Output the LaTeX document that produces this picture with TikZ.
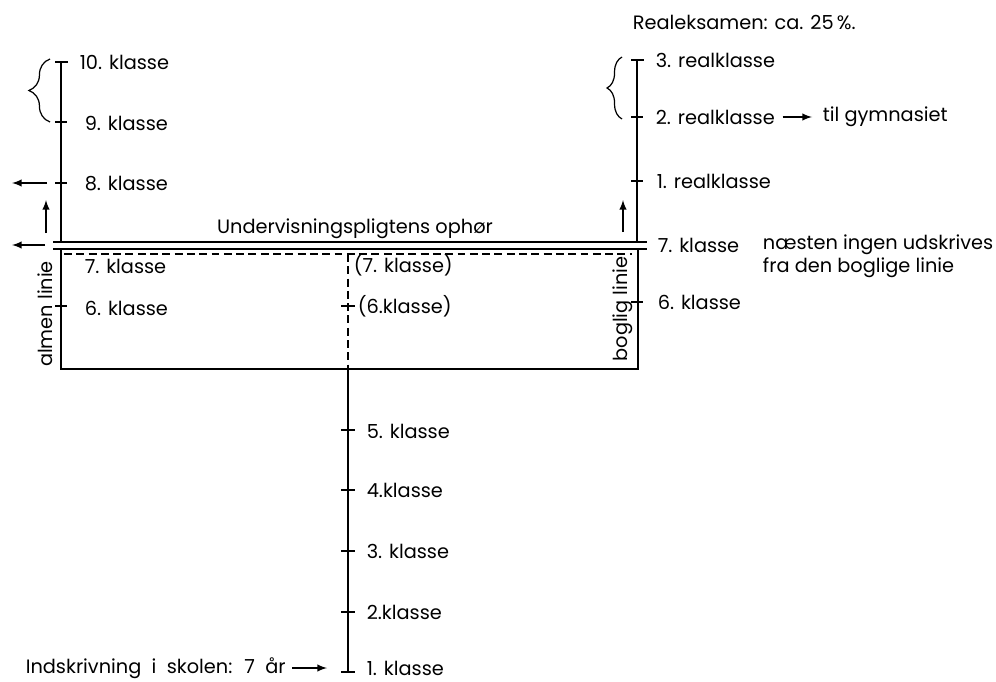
\documentclass[tikz,border=0pt]{standalone}
\usepackage{fontspec}
\setmainfont{Poppins}
\usetikzlibrary{calc, arrows.meta, decorations.pathreplacing}
\tikzset{>=latex}
\tikzset{
  grade/.style={anchor=west, inner sep=0pt, font=\fontsize{11}{13}\selectfont},
  gbrace/.style={decorate, decoration={brace, amplitude=#1}, line width=0.7pt},
  dash line/.style={dash pattern=on 4.5pt off 2.5pt}
}
\begin{document}
\begin{tikzpicture}[x=0.02cm, y=-0.02cm, line width=0.9pt]
\useasboundingbox (0,0) rectangle (996,682);
\coordinate (LT) at (61,62);
\coordinate (LD) at (61,242);
\coordinate (RT) at (637,60);
\coordinate (RD) at (637,242);
\coordinate (BL) at (61,369);
\coordinate (BR) at (638,369);
\coordinate (MB) at (348,672);
\draw (LT) -- (LD);
\draw (RT) -- (RD);
\draw (LT) +(-6,0) -- +(7,0);
\draw (RT) +(-6,0) -- +(7,0);
\draw (53,242) -- (647,242);
\draw (53,249) -- (647,249);
\draw (61,249) -- (BL) -- (BR) -- (638,249);
\draw[dash line] (64,254) -- (632,254);
\draw[dash line] (348,254) -- (348,369);
\draw (348,369) -- (MB);
\draw (MB) +(-7,0) -- +(7,0);
\foreach \y in {122,183,306} \draw (61,\y) +(-6,0) -- +(6,0);
\foreach \y in {117,181,302} \draw (637,\y) +(-6,0) -- +(6,0);
\foreach \y in {306,430,490,551,612} \draw (348,\y) +(-7,0) -- +(7,0);
\draw[gbrace=12pt] (50,122) -- (50,59);
\draw[gbrace=8.5pt] (622,119) -- (622,57);
\draw[->] (47,183) -- (12,183);
\draw[->] (45,245) -- (12,245);
\draw[->] (46,233) -- (46,200);
\draw[->] (623,232) -- (623,200);
\node[grade] (k10) at (79,62) {10. klasse};
\node[grade] (k9) at (84,123) {9. klasse};
\node[grade] (k8) at (84,184) {8. klasse};
\node[grade] (ak7) at (84,266) {7. klasse};
\node[grade] (ak6) at (84,308) {6. klasse};
\node[grade, rotate=90, anchor=center] (almen) at (45,314) {almen linie};
\node[grade, rotate=90, anchor=center] (boglig) at (623,309) {boglig linie};
\node[grade, anchor=center] (ophor) at (355,229) {Undervisningspligtens ophør};
\node[grade] (mk7) at (353,265) {(7. klasse)};
\node[grade] (mk6) at (357,306) {(6.klasse)};
\node[grade] (r3) at (655,60) {3. realklasse};
\node[grade] (r2) at (655,117) {2. realklasse};
\node[grade] (gym) at (822,117) {til gymnasiet};
\draw[->] (r2.east) ++(7,0) -- ($(gym.west)+(-10,0)$);
\node[grade] (r1) at (656,181) {1. realklasse};
\node[grade] (bk7) at (657,245) {7. klasse};
\node[grade] (bk6) at (657,302) {6. klasse};
\node[grade, anchor=east] (udskr) at (994,245) {næsten ingen udskrives};
\node[grade] (boglige) at (udskr.west |- 0,268) {fra den boglige linie};
\node[grade] (real) at (632,22) {Realeksamen: ca. 25\,\%.};
\node[grade] (k5) at (366,431) {5. klasse};
\node[grade] (k4) at (366,490) {4.klasse};
\node[grade] (k3) at (366,551) {3. klasse};
\node[grade] (k2) at (366,612) {2.klasse};
\node[grade] (k1) at (366,668) {1. klasse};
\node[grade] (ind) at (25,668) {\spaceskip=2\fontdimen2\font Indskrivning i skolen: 7 år};
\draw[->] (ind.east) ++(6,0) -- ($(MB)+(-21,-4)$);
\end{tikzpicture}
\end{document}
